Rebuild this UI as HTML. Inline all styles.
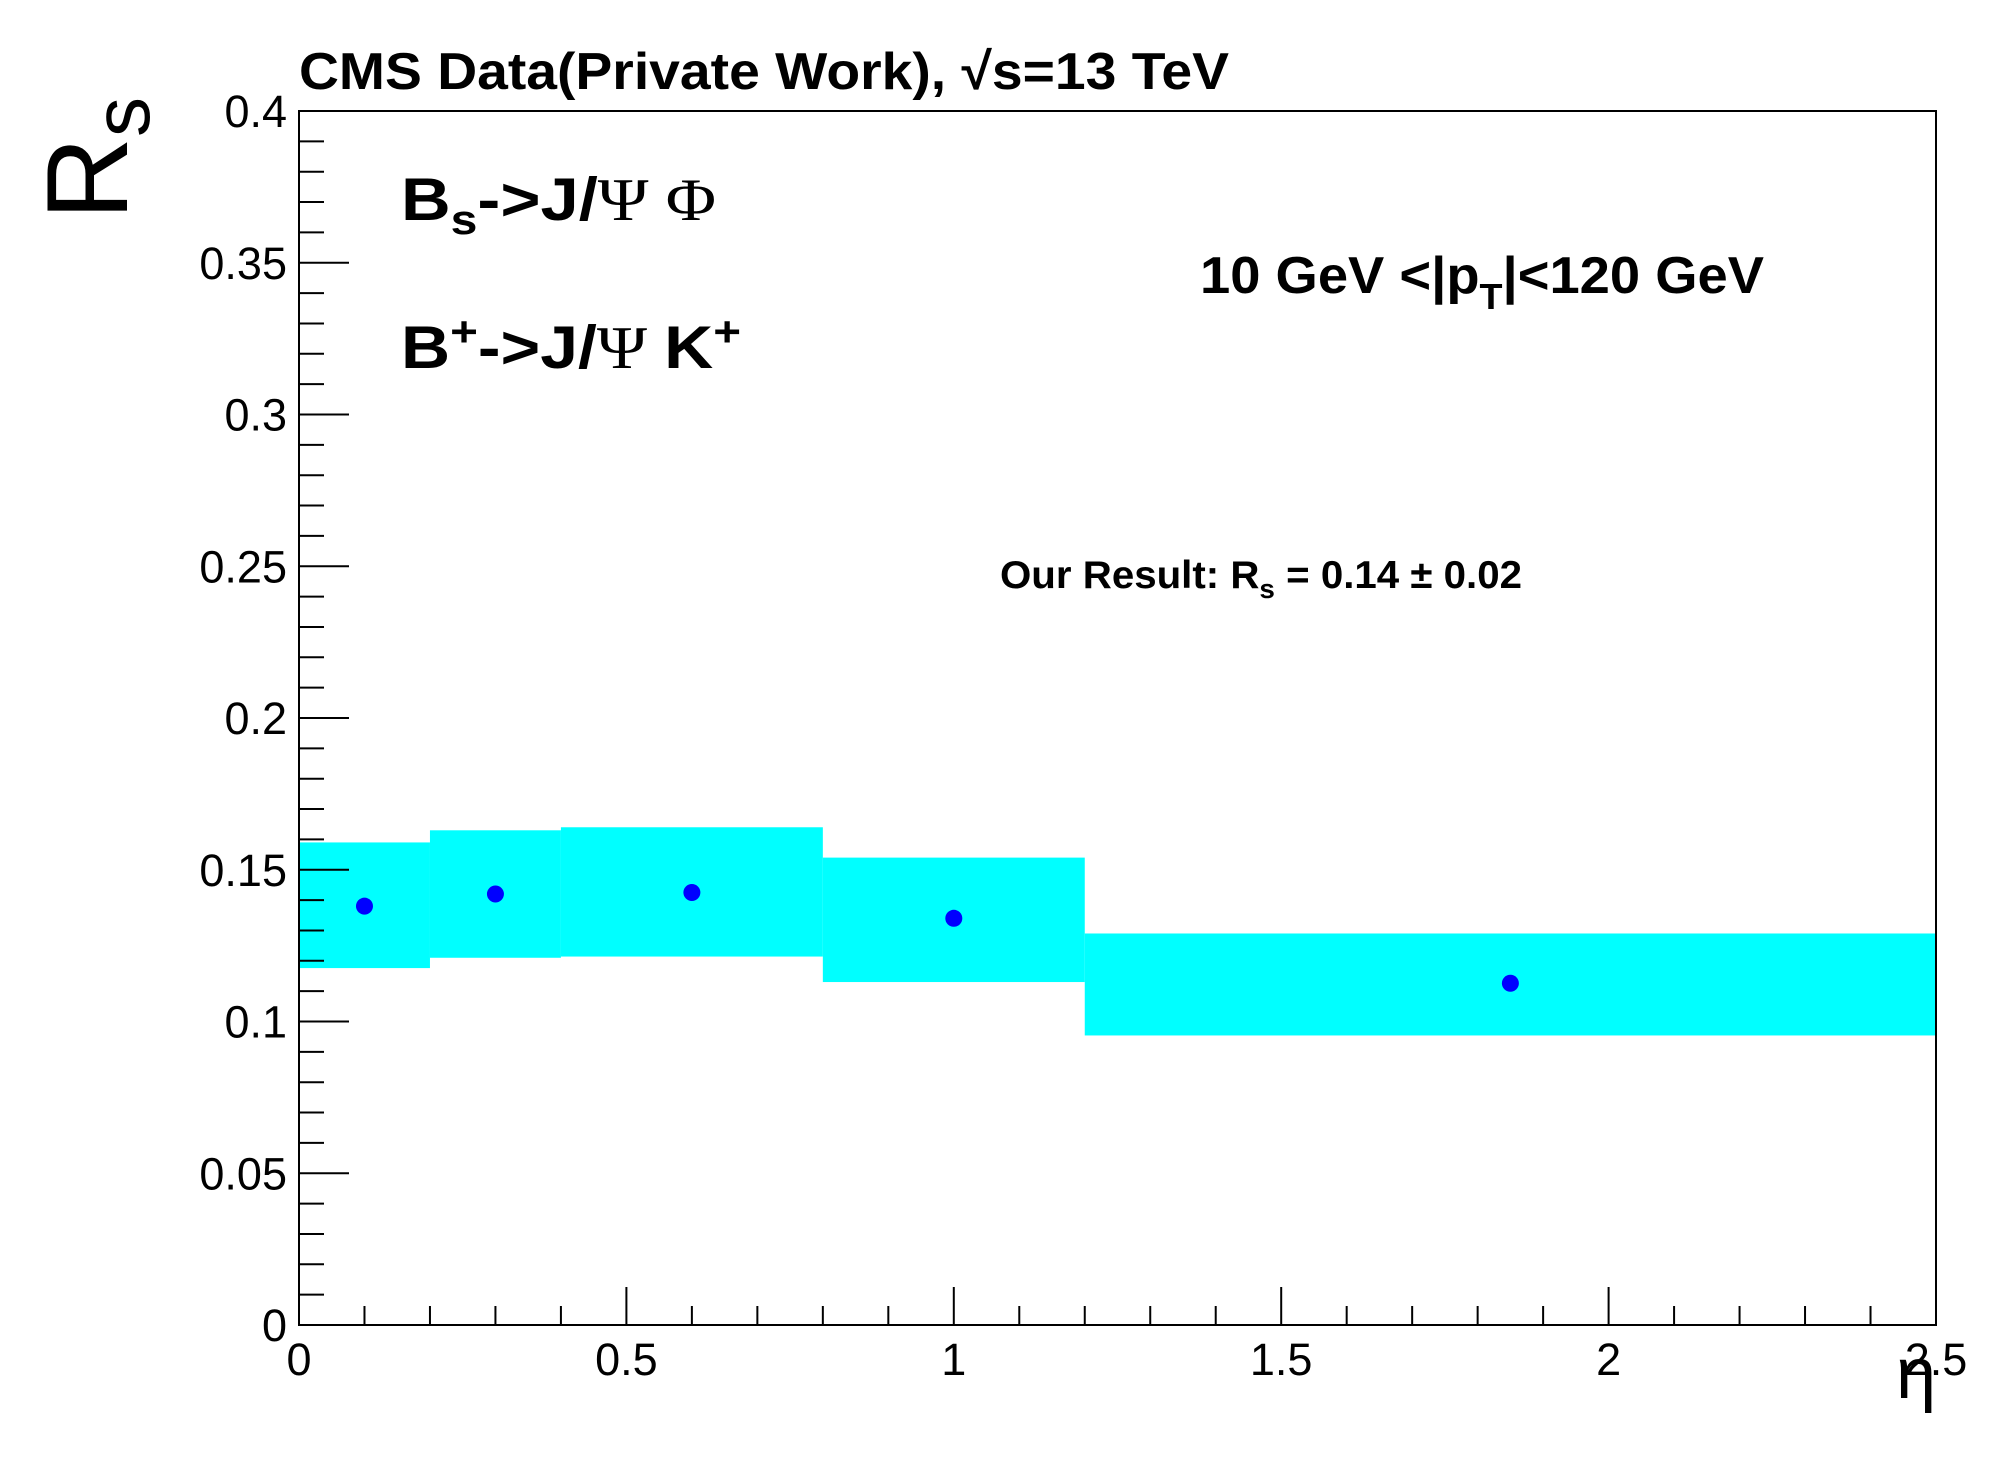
<!DOCTYPE html>
<html><head><meta charset="utf-8"><style>html,body{margin:0;padding:0;background:#fff}svg{display:block}text{font-family:"Liberation Sans",sans-serif}</style></head>
<body>
<svg id="chart" width="1996" height="1472" viewBox="0 0 1996 1472" xmlns="http://www.w3.org/2000/svg">
<g id="bands"></g>
<g id="points"></g>
<g id="axes"></g>
<text x="299" y="89" font-size="52" font-weight="bold" textLength="930" lengthAdjust="spacingAndGlyphs">CMS Data(Private Work),  √s=13 TeV</text>
<text transform="translate(127,220) rotate(-90)" font-size="115" text-anchor="start">R<tspan font-size="80" dy="22">s</tspan></text>
<text x="1936" y="1398" font-size="72" text-anchor="end">η</text>
<text x="401" y="220" font-size="60" font-weight="bold" textLength="315" lengthAdjust="spacingAndGlyphs">B<tspan font-size="42" dy="14">s</tspan><tspan dy="-14">-&gt;J/</tspan><tspan font-family="Liberation Serif" font-weight="normal">Ψ Φ</tspan></text>
<text x="401" y="368" font-size="60" font-weight="bold" textLength="340" lengthAdjust="spacingAndGlyphs">B<tspan font-size="42" dy="-22">+</tspan><tspan dy="22">-&gt;J/</tspan><tspan font-family="Liberation Serif" font-weight="normal">Ψ </tspan>K<tspan font-size="42" dy="-22">+</tspan></text>
<text x="1200" y="293" font-size="52" font-weight="bold" textLength="564" lengthAdjust="spacingAndGlyphs">10 GeV &lt;|p<tspan font-size="36" dy="16">T</tspan><tspan dy="-16">|&lt;120 GeV</tspan></text>
<text x="1000" y="588" font-size="39" font-weight="bold" textLength="522" lengthAdjust="spacingAndGlyphs">Our Result: R<tspan font-size="27" dy="10">s</tspan><tspan dy="-10"> = 0.14 ± 0.02</tspan></text>
</svg>
<script>
const binLow = [0, 0.2, 0.4, 0.8, 1.2];
const binHigh = [0.2, 0.4, 0.8, 1.2, 2.5];
const bandLow = [0.1176, 0.121, 0.1214, 0.113, 0.0954];
const bandHigh = [0.159, 0.163, 0.164, 0.154, 0.129];
const pointX = [0.1, 0.3, 0.6, 1.0, 1.85];
const pointY = [0.138, 0.142, 0.1425, 0.134, 0.1126];
const xTickLabels = ["0", "0.5", "1", "1.5", "2", "2.5"];
const yTickLabels = ["0", "0.05", "0.1", "0.15", "0.2", "0.25", "0.3", "0.35", "0.4"];

const X0 = 299, X1 = 1936, Y0 = 1325, Y1 = 111;
const xMin = 0, xMax = 2.5, yMin = 0, yMax = 0.4;
function sx(v) { return X0 + (v - xMin) / (xMax - xMin) * (X1 - X0); }
function sy(v) { return Y0 - (v - yMin) / (yMax - yMin) * (Y0 - Y1); }
const NS = "http://www.w3.org/2000/svg";
function mk(tag, attrs, parent) { const e = document.createElementNS(NS, tag); for (const k in attrs) e.setAttribute(k, attrs[k]); parent.appendChild(e); return e; }

const bands = document.getElementById('bands');
for (let i = 0; i < binLow.length; i++) {
  const r = mk('rect', { x: sx(binLow[i]), y: sy(bandHigh[i]), width: sx(binHigh[i]) - sx(binLow[i]), height: sy(bandLow[i]) - sy(bandHigh[i]), fill: '#00ffff' }, bands);
  
  
}
const pts = document.getElementById('points');
for (let i = 0; i < pointX.length; i++) {
  const c = mk('circle', { cx: sx(pointX[i]), cy: sy(pointY[i]), r: 8.5, fill: '#0000ff' }, pts);
  
  
}
const ax = document.getElementById('axes');
const frame = mk('rect', { x: X0, y: Y1, width: X1 - X0, height: Y0 - Y1, fill: 'none', stroke: '#000', 'stroke-width': 2 }, ax);


for (let k = 0; k <= 40; k++) {
  const v = k * 0.01, y = sy(v), major = k % 5 === 0;
  mk('line', { x1: X0, x2: X0 + (major ? 50 : 25), y1: y, y2: y, stroke: '#000', 'stroke-width': 2 }, ax);
}
yTickLabels.forEach(function (s) {
  const t = mk('text', { x: 287, y: sy(parseFloat(s)) + 16, 'font-size': 45, 'text-anchor': 'end' }, ax);
  t.textContent = s;
  
  
});
for (let k = 0; k <= 25; k++) {
  const v = k * 0.1, x = sx(v), major = k % 5 === 0;
  mk('line', { x1: x, x2: x, y1: Y0, y2: Y0 - (major ? 38 : 19), stroke: '#000', 'stroke-width': 2 }, ax);
}
xTickLabels.forEach(function (s) {
  const t = mk('text', { x: sx(parseFloat(s)), y: 1375, 'font-size': 45, 'text-anchor': 'middle' }, ax);
  t.textContent = s;
  
  
});
</script>
</body></html>
